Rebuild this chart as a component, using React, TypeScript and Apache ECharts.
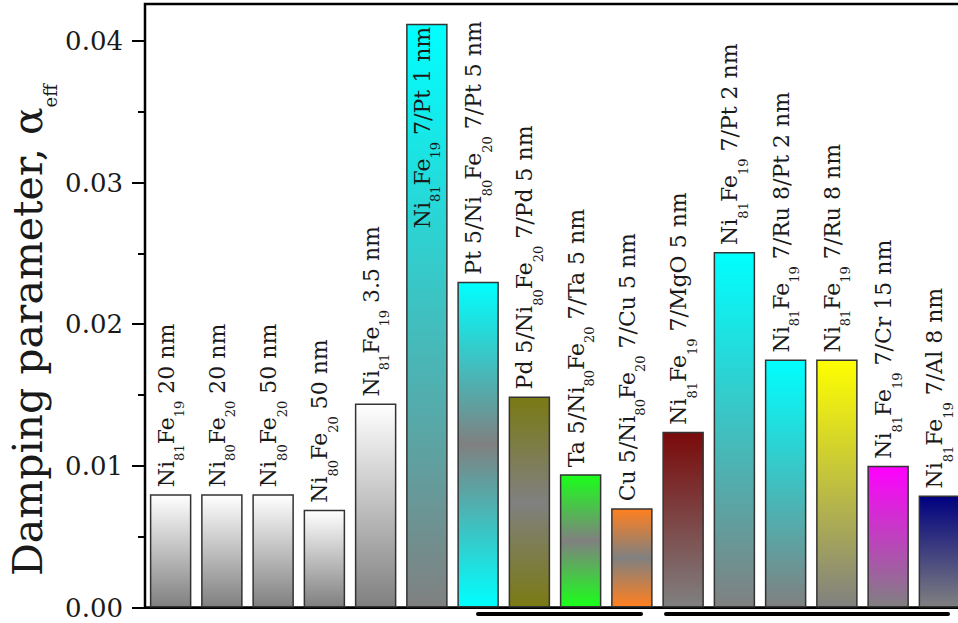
import React, { useEffect, useRef } from 'react';
import * as echarts from 'echarts';

// Sample labels: "_{..}" marks a subscript
const sampleLabels = [
  'Ni_{81}Fe_{19} 20 nm',
  'Ni_{80}Fe_{20} 20 nm',
  'Ni_{80}Fe_{20} 50 nm',
  'Ni_{80}Fe_{20} 50 nm',
  'Ni_{81}Fe_{19} 3.5 nm',
  'Ni_{81}Fe_{19} 7/Pt 1 nm',
  'Pt 5/Ni_{80}Fe_{20} 7/Pt 5 nm',
  'Pd 5/Ni_{80}Fe_{20} 7/Pd 5 nm',
  'Ta 5/Ni_{80}Fe_{20} 7/Ta 5 nm',
  'Cu 5/Ni_{80}Fe_{20} 7/Cu 5 nm',
  'Ni_{81}Fe_{19} 7/MgO 5 nm',
  'Ni_{81}Fe_{19} 7/Pt 2 nm',
  'Ni_{81}Fe_{19} 7/Ru 8/Pt 2 nm',
  'Ni_{81}Fe_{19} 7/Ru 8 nm',
  'Ni_{81}Fe_{19} 7/Cr 15 nm',
  'Ni_{81}Fe_{19} 7/Al 8 nm',
];

const dampingValues = [
  0.008, 0.008, 0.008, 0.0069, 0.0144, 0.0412, 0.023, 0.0149,
  0.0094, 0.007, 0.0124, 0.0251, 0.0175, 0.0175, 0.01, 0.0079,
];

const majorTickValues = [0, 0.01, 0.02, 0.03, 0.04];
const minorTickValues = [0.005, 0.015, 0.025, 0.035];

// colour of each bar (end colour of its gradient) and the gradient shape
const barEndColors = [
  '#ffffff', '#ffffff', '#ffffff', '#ffffff', '#ffffff',
  '#00ffff', '#00ffff', '#7a7a14', '#1aff1a', '#ff8020',
  '#7a0a0a', '#00ffff', '#00ffff', '#ffff00', '#ff00ff', '#000080',
];
const barGradientKinds = [
  'fade', 'fade', 'fade', 'fade', 'fade',
  'fade', 'mirror', 'mirror', 'mirror', 'mirror',
  'fade', 'fade', 'fade', 'fade', 'fade', 'fade',
];
const insideLabelIndex = 5;

const FONT = "'DejaVu Serif', serif";
const GRAY = '#808080';

function toRich(s: string): string {
  const parts = s.split(/_\{([^}]*)\}/);
  let out = '';
  parts.forEach((p, i) => {
    if (!p) return;
    out += i % 2 === 0 ? `{m|${p}}` : `{s|${p}}`;
  });
  return out;
}

function gradient(color: string, kind: string) {
  const stops =
    kind === 'mirror'
      ? [
          { offset: 0, color },
          { offset: 0.5, color: GRAY },
          { offset: 1, color },
        ]
      : [
          { offset: 0, color },
          { offset: 1, color: GRAY },
        ];
  return { type: 'linear', x: 0, y: 0, x2: 0, y2: 1, colorStops: stops };
}

export default function App() {
  const ref = useRef<HTMLDivElement>(null);

  useEffect(() => {
    if (!ref.current) return;
    const chart = echarts.init(ref.current, null, { renderer: 'svg' });

    const labelRich = {
      m: { fontSize: 22, fontFamily: FONT, color: '#1a1a1a', verticalAlign: 'top' },
      s: { fontSize: 13, fontFamily: FONT, color: '#1a1a1a', verticalAlign: 'top', padding: [18, 0, 0, 0] },
    };

    const data = dampingValues.map((v, i) => {
      const item: any = {
        value: v,
        itemStyle: { color: gradient(barEndColors[i], barGradientKinds[i]) },
      };
      if (i === insideLabelIndex) {
        item.label = { position: 'insideTop', align: 'right', distance: 6 };
      }
      return item;
    });

    chart.setOption({
      animation: false,
      backgroundColor: '#ffffff',
      grid: {
        left: 145,
        width: 820,
        top: 4,
        bottom: 15.5,
        outerBoundsMode: 'none',
        containLabel: false,
        show: true,
        borderColor: '#000',
        borderWidth: 2.5,
        backgroundColor: 'transparent',
      },
      xAxis: {
        type: 'category',
        data: sampleLabels,
        axisLine: { show: true, lineStyle: { color: '#000', width: 2 } },
        axisTick: { show: false },
        axisLabel: { show: false },
        splitLine: { show: false },
      },
      yAxis: [
        {
          type: 'value',
          position: 'left',
          min: 0,
          max: 0.0426,
          axisLine: { show: true, lineStyle: { color: '#000', width: 2 } },
          axisTick: {
            show: true,
            inside: false,
            length: 13,
            lineStyle: { color: '#000', width: 2 },
            customValues: majorTickValues,
          },
          axisLabel: {
            show: true,
            margin: 22,
            fontSize: 26,
            fontFamily: FONT,
            color: '#1a1a1a',
            customValues: majorTickValues,
            formatter: (v: number) => v.toFixed(2),
          },
          splitLine: { show: false },
        },
        {
          type: 'value',
          position: 'left',
          min: 0,
          max: 0.0426,
          axisLine: { show: false },
          axisTick: {
            show: true,
            inside: false,
            length: 7,
            lineStyle: { color: '#000', width: 2 },
            customValues: minorTickValues,
          },
          axisLabel: { show: false },
          splitLine: { show: false },
        },
      ],
      series: [
        {
          type: 'bar',
          yAxisIndex: 0,
          data,
          barCategoryGap: '19%',
          clip: false,
          itemStyle: { borderColor: '#333', borderWidth: 1.5 },
          label: {
            show: true,
            position: 'top',
            rotate: 90,
            align: 'left',
            verticalAlign: 'middle',
            distance: 4,
            offset: [3, 0],
            color: '#1a1a1a',
            textBorderWidth: 0,
            fontFamily: FONT,
            fontSize: 22,
            formatter: (p: any) => toRich(sampleLabels[p.dataIndex]),
            rich: labelRich,
          },
        },
      ],
      graphic: [
        {
          type: 'text',
          x: 33,
          y: 330,
          rotation: Math.PI / 2,
          style: {
            text: '{t|Damping parameter, α}{e|eff}',
            align: 'center',
            verticalAlign: 'middle',
            fill: '#1a1a1a',
            rich: {
              t: { fontSize: 41, fontFamily: FONT, fill: '#1a1a1a', verticalAlign: 'top' },
              e: { fontSize: 18, fontFamily: FONT, fill: '#1a1a1a', verticalAlign: 'top', padding: [34, 0, 0, 0] },
            },
          },
        },
        {
          type: 'line',
          shape: { x1: 478, y1: 614, x2: 641, y2: 614 },
          style: { stroke: '#000', lineWidth: 4, lineCap: 'round' },
        },
        {
          type: 'line',
          shape: { x1: 666, y1: 614, x2: 948, y2: 614 },
          style: { stroke: '#000', lineWidth: 4, lineCap: 'round' },
        },
      ],
    });

    return () => chart.dispose();
  }, []);

  return (
    <div
      ref={ref}
      style={{ position: 'absolute', left: 0, top: 0, width: 958, height: 623, background: '#fff' }}
    />
  );
}
